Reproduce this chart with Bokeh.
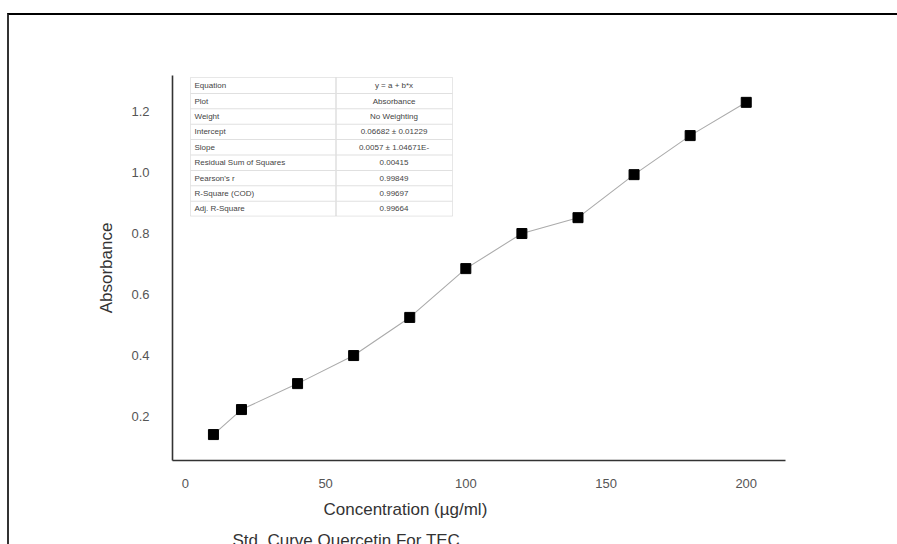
import math
from bokeh.plotting import figure
from bokeh.models import Range1d, Label, BoxAnnotation, FixedTicker, Title
from bokeh.embed import file_html
from bokeh.resources import INLINE

# ---- data ----
conc = [10, 20, 40, 60, 80, 100, 120, 140, 160, 180, 200]
absorb = [0.141, 0.223, 0.308, 0.400, 0.525, 0.685, 0.800, 0.852, 0.993, 1.121, 1.230]
x_ticks = [0, 50, 100, 150, 200]
y_ticks = [0.2, 0.4, 0.6, 0.8, 1.0, 1.2]
table_keys = ["Equation", "Plot", "Weight", "Intercept", "Slope",
              "Residual Sum of Squares", "Pearson's r", "R-Square (COD)", "Adj. R-Square"]
table_vals = ["y = a + b*x", "Absorbance", "No Weighting", "0.06682 \u00b1 0.01229",
              "0.0057 \u00b1 1.04671E-", "0.00415", "0.99849", "0.99697", "0.99664"]
x_title = "Concentration (\u00b5g/ml)"
y_title = "Absorbance"
chart_title = "Std. Curve Quercetin For TEC"

FONT = "Liberation Sans"
FX, FY = 9, 15    # page offset used for the frame borders
OX, OY = 11, 17   # page offset of the canvas coordinates used by annotations

p = figure(frame_width=613, frame_height=385, min_border_left=172 - FX, min_border_right=112,
           min_border_top=75 - FY, min_border_bottom=90,
           x_range=Range1d(-4.6, 214), y_range=Range1d(0.056, 1.318),
           output_backend="svg", toolbar_location=None)
p.styles = {"margin-left": "7px", "margin-top": "13px",
            "border-top": "2px solid black", "border-left": "2px solid #333333"}
p.grid.visible = False
p.outline_line_color = None
p.background_fill_color = "white"
p.border_fill_color = "white"

for ax in (p.xaxis[0], p.yaxis[0]):
    ax.axis_line_color = "#333333"
    ax.axis_line_width = 1.6
    ax.major_tick_line_color = None
    ax.minor_tick_line_color = None
    ax.major_label_text_font = FONT
    ax.major_label_text_font_size = "13px"
    ax.major_label_text_color = "#555555"
p.xaxis[0].ticker = FixedTicker(ticks=x_ticks)
p.yaxis[0].ticker = FixedTicker(ticks=y_ticks)
p.xaxis[0].major_label_standoff = 12
p.yaxis[0].major_label_standoff = 17
p.yaxis[0].major_label_overrides = {t: f"{t:.1f}" for t in y_ticks}

p.yaxis[0].axis_label = y_title
p.yaxis[0].axis_label_text_font = FONT
p.yaxis[0].axis_label_text_font_size = "17px"
p.yaxis[0].axis_label_text_font_style = "normal"
p.yaxis[0].axis_label_text_color = "#333333"
p.yaxis[0].axis_label_standoff = 12

p.add_layout(Title(text=x_title, align="left", offset=151, text_font=FONT,
                   text_font_size="17px", text_font_style="normal", text_color="#333333",
                   standoff=14), "below")
p.add_layout(Title(text=chart_title, align="left", offset=60, text_font=FONT,
                   text_font_size="17px", text_font_style="normal", text_color="#333333",
                   standoff=7), "below")

p.line(conc, absorb, line_color="#ababab", line_width=1.1)
p.scatter(conc, absorb, marker="square", size=10, fill_color="black", line_color="black")


def cbox(l, r, t, b, **kw):
    return BoxAnnotation(left=l - OX, right=r - OX, top=t - OY, bottom=b - OY,
                         left_units="canvas", right_units="canvas", top_units="canvas",
                         bottom_units="canvas", level="overlay", **kw)


def clabel(x, y, text, size, **kw):
    return Label(x=x - OX, y=y - OY, x_units="canvas", y_units="canvas", text=text,
                 text_font=FONT, text_font_size=size, **kw)


# stats table
tx0, tx1, tmid, ty0 = 190, 452, 335, 77
rh = 15.4
n = len(table_keys)
p.add_layout(cbox(tx0, tx1, ty0, ty0 + rh * n, fill_color="white", fill_alpha=1,
                  line_color="#b0b0b0", line_width=1))
p.add_layout(cbox(tmid, tmid + 1, ty0, ty0 + rh * n, fill_color="#d0d0d0", fill_alpha=1,
                  line_color=None))
for i in range(1, n):
    yy = ty0 + rh * i
    p.add_layout(cbox(tx0, tx1, yy, yy + 1, fill_color="#e0e0e0", fill_alpha=1,
                      line_color=None))
for i, (k, v) in enumerate(zip(table_keys, table_vals)):
    yc = ty0 + rh * i + rh / 2 + 0.5
    p.add_layout(clabel(tx0 + 4, yc, k, "8px", text_color="#444444",
                        text_align="left", text_baseline="middle", level="overlay"))
    p.add_layout(clabel((tmid + tx1) / 2, yc, v, "8px", text_color="#444444",
                        text_align="center", text_baseline="middle", level="overlay"))

open("out.html", "w").write(file_html(p, INLINE))
